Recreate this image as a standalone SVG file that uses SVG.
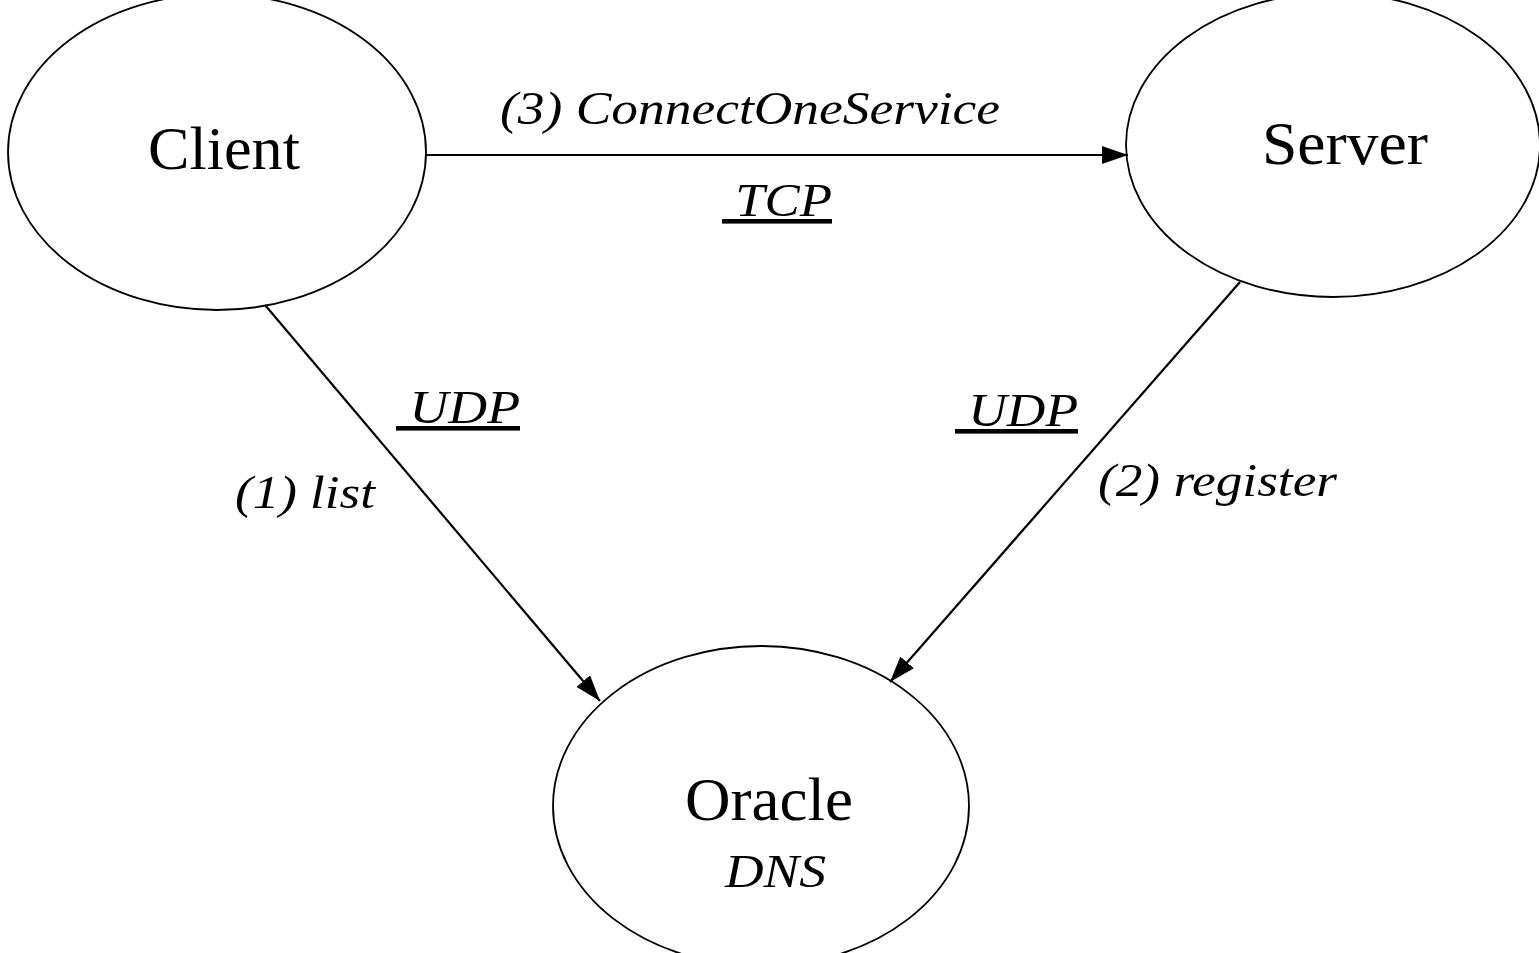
<svg xmlns="http://www.w3.org/2000/svg" width="1539" height="953" viewBox="0 0 1539 953">
<style>
.node{fill:#fff;stroke:#000;stroke-width:1.8}
.t{font-family:'Liberation Serif',serif;fill:#000}
.big{font-size:62px}
.lab{font-size:46px;font-style:italic}
.u{text-decoration:underline;white-space:pre}
.edge{stroke:#000;stroke-width:2.2;fill:none}
</style>
<defs>
<marker id="ah" viewBox="0 0 26 18" refX="26" refY="9" markerWidth="26" markerHeight="18" markerUnits="userSpaceOnUse" orient="auto">
<path d="M0,0 L26,9 L0,18 z" fill="#000"/>
</marker>
</defs>
<rect width="1539" height="953" fill="#fff"/>
<g id="client">
<ellipse class="node" cx="217" cy="152" rx="209" ry="158"/>
<text class="t big" x="148" y="169" textLength="152" lengthAdjust="spacingAndGlyphs">Client</text>
</g>
<g id="server">
<ellipse class="node" cx="1333" cy="145" rx="207" ry="152"/>
<text class="t big" x="1262" y="164" textLength="166" lengthAdjust="spacingAndGlyphs">Server</text>
</g>
<g id="oracle">
<ellipse class="node" cx="761" cy="806" rx="208" ry="160"/>
<text class="t big" x="685" y="820" textLength="168" lengthAdjust="spacingAndGlyphs">Oracle</text>
<text class="t lab" x="725" y="887" textLength="101" lengthAdjust="spacingAndGlyphs">DNS</text>
</g>
<g id="connectors">
<line class="edge" x1="426" y1="155" x2="1128" y2="155" marker-end="url(#ah)"/>
<line class="edge" x1="265" y1="305" x2="600" y2="701" marker-end="url(#ah)"/>
<line class="edge" x1="1240" y1="282" x2="890" y2="682" marker-end="url(#ah)"/>
<text class="t lab" x="500" y="124" textLength="500" lengthAdjust="spacingAndGlyphs">(3) ConnectOneService</text>
<text class="t lab u" x="722" y="216" xml:space="preserve" textLength="110" lengthAdjust="spacingAndGlyphs"> TCP</text>
<text class="t lab u" x="396" y="423" xml:space="preserve" textLength="124" lengthAdjust="spacingAndGlyphs"> UDP</text>
<text class="t lab u" x="955" y="426" xml:space="preserve" textLength="123" lengthAdjust="spacingAndGlyphs"> UDP</text>
<text class="t lab" x="235" y="508" textLength="140" lengthAdjust="spacingAndGlyphs">(1) list</text>
<text class="t lab" x="1098" y="496" textLength="239" lengthAdjust="spacingAndGlyphs">(2) register</text>
</g>
</svg>
